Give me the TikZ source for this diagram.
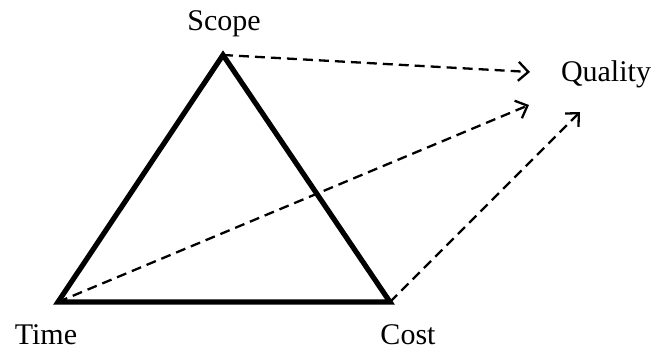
\documentclass[tikz,border=0pt]{standalone}
\usepackage{fontspec}
\setmainfont{Liberation Serif}
\usetikzlibrary{arrows.meta}
\begin{document}
\begin{tikzpicture}[x=1pt,y=1pt,
  side/.style={line width=5.2pt,line join=miter},
  dasharrow/.style={line width=2.3pt,dash pattern=on 10pt off 6pt,-{Straight Barb[length=10pt,width=19pt,line width=2.3pt]}},
  lbl/.style={font=\fontsize{30}{34}\selectfont,inner sep=0pt}]
\useasboundingbox (0,0) rectangle (655,350);
\coordinate (S) at (223,295);
\coordinate (T) at (58,48);
\coordinate (C) at (390,48);
\draw[side] (S) -- (T) -- (C) -- cycle;
\node[lbl] (scope) at (224,326) {Scope};
\node[lbl] (time) at (46,15) {Time};
\node[lbl] (cost) at (408,15) {Cost};
\node[lbl] (quality) at (606,276) {Quality};
\coordinate (q1) at (530,278);
\coordinate (q2) at (529,245);
\coordinate (q3) at (580,238);
\draw[dasharrow] (S) -- (q1);
\draw[dasharrow] (T) -- (q2);
\draw[dasharrow] (C) -- (q3);
\end{tikzpicture}
\end{document}
